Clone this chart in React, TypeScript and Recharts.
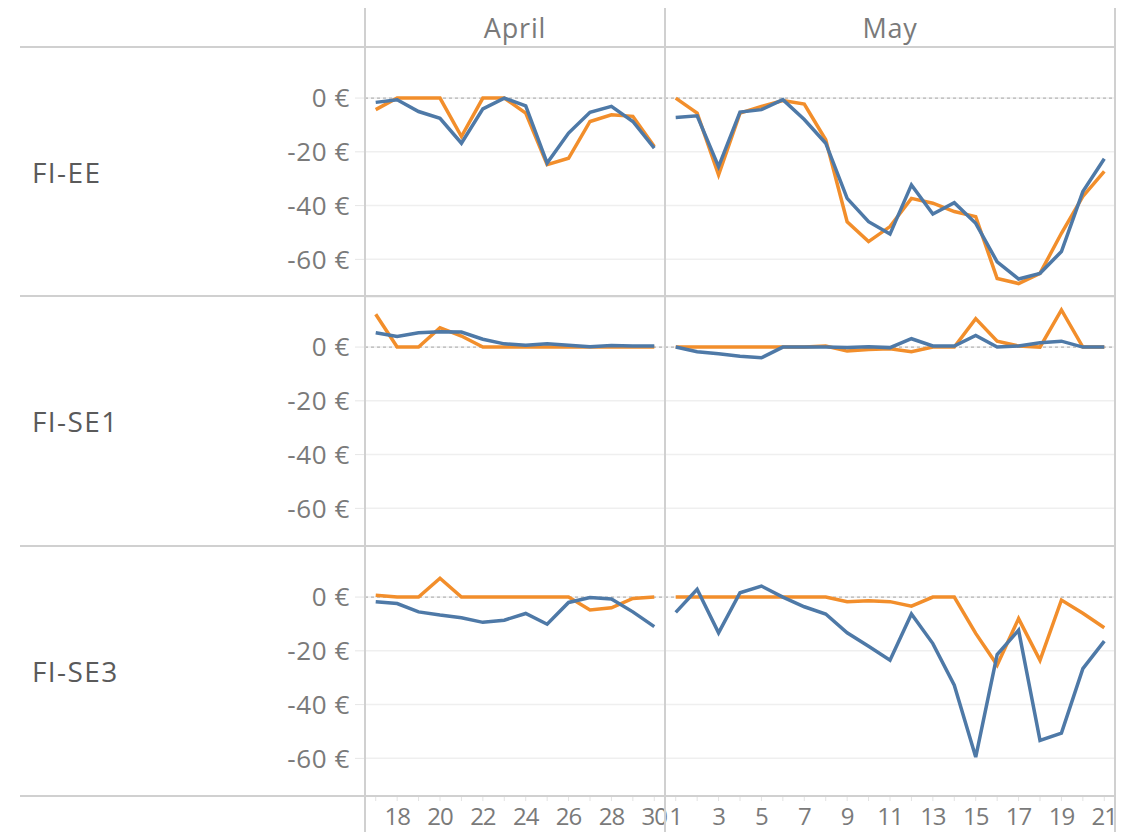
import { LineChart, Line, XAxis, YAxis, CartesianGrid, ReferenceLine } from "recharts";

const ORANGE = "#F28E2B";
const BLUE = "#4E79A7";
const FONT = "'Open Sans', 'DejaVu Sans', sans-serif";

const aprilDays = [17, 18, 19, 20, 21, 22, 23, 24, 25, 26, 27, 28, 29, 30];
const mayDays = [1, 2, 3, 4, 5, 6, 7, 8, 9, 10, 11, 12, 13, 14, 15, 16, 17, 18, 19, 20, 21];

// FI-EE
const eeAprilOrange = [-4.3, 0, 0, 0, -14.3, 0, 0, -5.6, -24.8, -22.4, -8.7, -6.2, -6.8, -18];
const eeAprilBlue = [-1.6, -0.6, -5, -7.5, -16.8, -4, 0, -2.9, -24.2, -13, -5.3, -3.1, -8.7, -18.6];
const eeMayOrange = [0, -5.6, -28.6, -5.6, -3.1, -0.9, -2.2, -15.5, -46, -53.4, -47.8, -37.3, -39.1, -42.2, -44.1, -67.1, -69, -65.2, -50.3, -36.6, -27.3];
const eeMayBlue = [-7.2, -6.6, -25.5, -5.2, -4.3, -0.6, -8, -16.8, -37.3, -46, -50.6, -32.3, -43.1, -38.9, -46.6, -60.9, -67.3, -65.2, -57.1, -34.8, -22.6];

// FI-SE1
const se1AprilOrange = [12.2, 0, 0, 7.2, 4.1, 0, 0, 0, 0, 0, 0, 0, 0, 0];
const se1AprilBlue = [5.3, 3.9, 5.3, 5.7, 5.6, 2.9, 1.2, 0.7, 1.2, 0.7, 0.1, 0.6, 0.4, 0.4];
const se1MayOrange = [0, 0, 0, 0, 0, 0, 0, 0.4, -1.5, -0.9, -0.6, -1.7, 0, 0, 10.6, 2.2, 0.4, 0, 13.8, 0, 0];
const se1MayBlue = [0, -1.7, -2.5, -3.4, -4, 0, 0, 0, -0.2, 0.1, -0.2, 3.1, 0.4, 0.4, 4.3, 0, 0.4, 1.6, 2.2, 0, 0];

// FI-SE3
const se3AprilOrange = [0.7, 0, 0, 7, 0, 0, 0, 0, 0, 0, -4.8, -4, -0.5, 0];
const se3AprilBlue = [-1.7, -2.4, -5.5, -6.7, -7.7, -9.4, -8.6, -6.1, -10.1, -2, -0.2, -0.7, -5.5, -11];
const se3MayOrange = [0, 0, 0, 0, 0, 0, 0, 0, -1.7, -1.4, -1.7, -3.4, 0, 0, -13.5, -25.3, -8, -23.5, -1.1, -6, -11.4];
const se3MayBlue = [-5.7, 2.9, -13.3, 1.6, 4.1, 0, -3.6, -6.3, -13.3, -18.3, -23.5, -6.3, -17.3, -32.8, -59.5, -21.4, -12.3, -53.3, -50.6, -26.6, -16.4];

const regions = ["FI-EE", "FI-SE1", "FI-SE3"];
const months = ["April", "May"];
const yTicks = [0, -20, -40, -60];
const yDomain = [-74, 19];

const toRows = (days: number[], orange: number[], blue: number[]) =>
  days.map((day, i) => ({ day, orange: orange[i], blue: blue[i] }));

const cells = [
  [toRows(aprilDays, eeAprilOrange, eeAprilBlue), toRows(mayDays, eeMayOrange, eeMayBlue)],
  [toRows(aprilDays, se1AprilOrange, se1AprilBlue), toRows(mayDays, se1MayOrange, se1MayBlue)],
  [toRows(aprilDays, se3AprilOrange, se3AprilBlue), toRows(mayDays, se3MayOrange, se3MayBlue)],
];

const ROW_TOPS = [47, 296, 546];
const ROW_H = 250;
const AXIS_H = 36;
const COLS = [
  { left: 265, width: 400, yAxis: true, days: aprilDays, domain: [16.5, 30.5], labelEven: true },
  { left: 665, width: 450, yAxis: false, days: mayDays, domain: [0.5, 21.5], labelEven: false },
];

const GRID = "#d0d0d0";
const TEXT = "#7a7a7a";

function XTick(props: any) {
  const { x, y, payload, labelEven } = props;
  const v = payload.value as number;
  const show = labelEven ? v % 2 === 0 : v % 2 === 1;
  if (!show) return <g />;
  return (
    <text x={x} y={y} dy="0.71em" textAnchor="middle" fill={TEXT} fontSize={24} letterSpacing={-1} fontFamily={FONT}>
      {v}
    </text>
  );
}

function Cell({ data, col, bottom }: { data: any[]; col: (typeof COLS)[number]; bottom: boolean }) {
  return (
    <LineChart
      width={col.width}
      height={ROW_H + (bottom ? AXIS_H : 0)}
      data={data}
      margin={{ top: 0, right: 0, left: 0, bottom: 0 }}
      style={{ overflow: "visible" }}
    >
      <CartesianGrid vertical={false} stroke="#efefef" strokeWidth={1.5} />
      <XAxis
        dataKey="day"
        type="number"
        domain={col.domain}
        ticks={col.days}
        interval={0}
        hide={!bottom}
        height={AXIS_H}
        axisLine={false}
        tickLine={{ stroke: "#e2e2e2" }}
        tickSize={5}
        tickMargin={7}
        tick={<XTick labelEven={col.labelEven} />}
      />
      <YAxis
        type="number"
        domain={yDomain}
        ticks={yTicks}
        hide={!col.yAxis}
        width={100}
        axisLine={false}
        tickLine={{ stroke: "#e6e6e6" }}
        tickSize={10}
        tickMargin={5}
        tickFormatter={(v: number) => `${v}\u00a0€`}
        tick={{ fill: TEXT, fontSize: 26, fontFamily: FONT, letterSpacing: 0.6 }}
      />
      <ReferenceLine y={0} stroke="#b5b5b5" strokeDasharray="3 3" strokeWidth={1.2} />
      <Line type="linear" dataKey="orange" stroke={ORANGE} strokeWidth={3.5} dot={false} isAnimationActive={false} />
      <Line type="linear" dataKey="blue" stroke={BLUE} strokeWidth={3.5} dot={false} isAnimationActive={false} />
    </LineChart>
  );
}

export default function App() {
  const hLines = [47, 296, 546, 796];
  const vLines = [365, 665, 1115];
  return (
    <div
      style={{
        position: "absolute",
        left: 0,
        top: 0,
        width: 1123,
        height: 832,
        background: "#fff",
        fontFamily: FONT,
        overflow: "hidden",
      }}
    >
      <style>{".recharts-surface{overflow:visible}"}</style>
      {months.map((m, i) => {
        const left = i === 0 ? 365 : 665;
        const width = i === 0 ? 300 : 450;
        return (
          <div
            key={m}
            style={{
              position: "absolute",
              left,
              width,
              top: 8,
              height: 39,
              lineHeight: "39px",
              textAlign: "center",
              fontSize: 27,
              letterSpacing: 0.8,
              color: TEXT,
            }}
          >
            {m}
          </div>
        );
      })}
      {regions.map((r, i) => (
        <div
          key={r}
          style={{
            position: "absolute",
            left: 32,
            top: ROW_TOPS[i],
            height: ROW_H,
            lineHeight: `${ROW_H}px`,
            fontSize: 28,
            letterSpacing: 1.4,
            color: "#5a5a5a",
          }}
        >
          {r}
        </div>
      ))}
      {cells.map((row, ri) =>
        row.map((data, ci) => (
          <div key={`${ri}-${ci}`} style={{ position: "absolute", left: COLS[ci].left, top: ROW_TOPS[ri] }}>
            <Cell data={data} col={COLS[ci]} bottom={ri === 2} />
          </div>
        ))
      )}
      {hLines.map((y) => (
        <div key={`h${y}`} style={{ position: "absolute", left: 20, width: 1096, top: y - 1, height: 2, background: GRID }} />
      ))}
      {vLines.map((x) => (
        <div key={`v${x}`} style={{ position: "absolute", left: x - 1, width: 2, top: 8, height: 824, background: GRID }} />
      ))}
    </div>
  );
}
